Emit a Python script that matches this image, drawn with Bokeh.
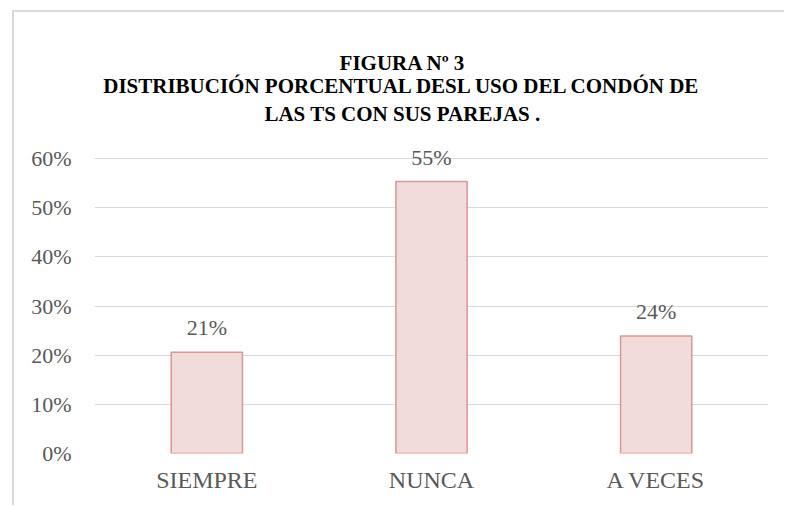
from bokeh.plotting import figure
from bokeh.models import ColumnDataSource, LabelSet, Label, NumeralTickFormatter, FixedTicker
from bokeh.embed import file_html
from bokeh.resources import INLINE

categories = ["SIEMPRE", "NUNCA", "A VECES"]
values = [0.206, 0.553, 0.239]
labels = [f"{round(v * 100)}%" for v in values]
y_ticks = [0.0, 0.1, 0.2, 0.3, 0.4, 0.5, 0.6]
title_lines = ["FIGURA Nº 3",
               "DISTRIBUCIÓN PORCENTUAL DESL USO DEL CONDÓN DE",
               "LAS TS CON SUS PAREJAS ."]

FONT = "Liberation Serif"
GRAY = "#595959"
GRID = "#d9d9d9"

W, H = 772, 495
p = figure(x_range=categories, y_range=(0, 0.897), width=W, height=H,
           output_backend="svg", toolbar_location=None,
           min_border_left=80, min_border_right=18, min_border_top=0,
           min_border_bottom=54)
p.title.visible = False
p.outline_line_color = None
p.background_fill_color = "white"
p.border_fill_color = "white"
p.styles = {"margin-left": "12px", "margin-top": "10px",
            "border-left": "2px solid #d9d9d9", "border-top": "2px solid #d9d9d9"}

src = ColumnDataSource(dict(cat=categories, val=values, lab=labels))
p.vbar(x="cat", top="val", width=0.317, source=src,
       fill_color="#f2dcdb", line_color="#d99694", line_width=1.5)

p.add_layout(LabelSet(x="cat", y="val", text="lab", source=src,
                      text_align="center", text_baseline="alphabetic",
                      y_offset=17, text_font=FONT, text_font_size="22px",
                      text_color=GRAY))

p.yaxis.ticker = FixedTicker(ticks=y_ticks)
p.yaxis.formatter = NumeralTickFormatter(format="0%")
for ax in (p.xaxis, p.yaxis):
    ax.axis_line_color = None
    ax.major_tick_line_color = None
    ax.minor_tick_line_color = None
    ax.major_tick_out = 0
    ax.major_tick_in = 0
    ax.major_label_text_font = FONT
    ax.major_label_text_color = GRAY
p.yaxis.major_label_text_font_size = "22px"
p.xaxis.major_label_text_font_size = "24px"
p.yaxis.major_label_standoff = 23
p.xaxis.major_label_standoff = 13

p.xgrid.grid_line_color = None
p.ygrid.grid_line_color = GRID
p.ygrid.grid_line_width = 1

# title lines (data units, placed in the empty space above the 60% line)
title_x = 1.371
title_ys = [0.795, 0.748, 0.690]
for txt, ty in zip(title_lines, title_ys):
    p.add_layout(Label(x=title_x, y=ty, text=txt, text_align="center",
                       text_baseline="alphabetic",
                       text_font=FONT, text_font_size="21px",
                       text_font_style="bold", text_color="black"))

open("out.html", "w").write(file_html(p, INLINE))
